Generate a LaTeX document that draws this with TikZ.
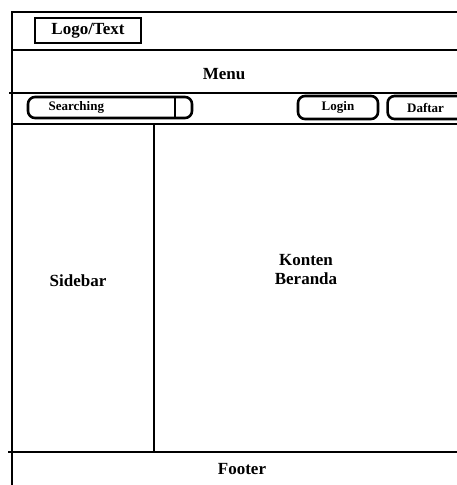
\documentclass[tikz,border=0pt]{standalone}
\usepackage{fontspec}
\setmainfont{Liberation Serif}
\usetikzlibrary{positioning}

\begin{document}
\begin{tikzpicture}[x=1pt,y=-1pt,line width=2.6pt,node distance=7pt,
	font=\bfseries\fontsize{17}{19}\selectfont]
		\tikzstyle{kotak}=[draw,inner sep=0pt,line width=2.8pt]
		\tikzstyle{tombol}=[draw,inner sep=0pt,rounded corners=7pt,minimum height=23pt,font=\bfseries\fontsize{13}{15}\selectfont]
		\useasboundingbox (0,0) rectangle (456,485);
		% kerangka halaman
		\draw (12,485) -- (12,12) -- (462,12);
		\draw (12,50) -- (462,50);
		\draw (9,93) -- (462,93);
		\draw (12,124) -- (462,124);
		\draw (8,452) -- (462,452);
		\draw (154,124) -- (154,452);
		% header
		\node[kotak,minimum width=106pt,minimum height=25pt] (logo) at (88,30.5) {Logo/Text};
		\node (menu) at (224,74) {Menu};
		% baris pencarian
		\node[tombol,minimum width=164pt,minimum height=21pt] (cari) at (110,107.5) {};
		\node[font=\bfseries\fontsize{13}{15}\selectfont,anchor=west] (carilabel) at (44,107) {Searching};
		\draw (175,97) -- (175,118);
		\node[tombol,minimum width=80pt] (login) at (338,107.5) {Login};
		\node[tombol,minimum width=76pt,right=7pt of login] (daftar) {Daftar};
		% isi
		\node (sidebar) at (78,281) {Sidebar};
		\node[align=center] (konten) at (306,270) {Konten\\Beranda};
		\node (footer) at (242,469) {Footer};
\end{tikzpicture}
\end{document}
